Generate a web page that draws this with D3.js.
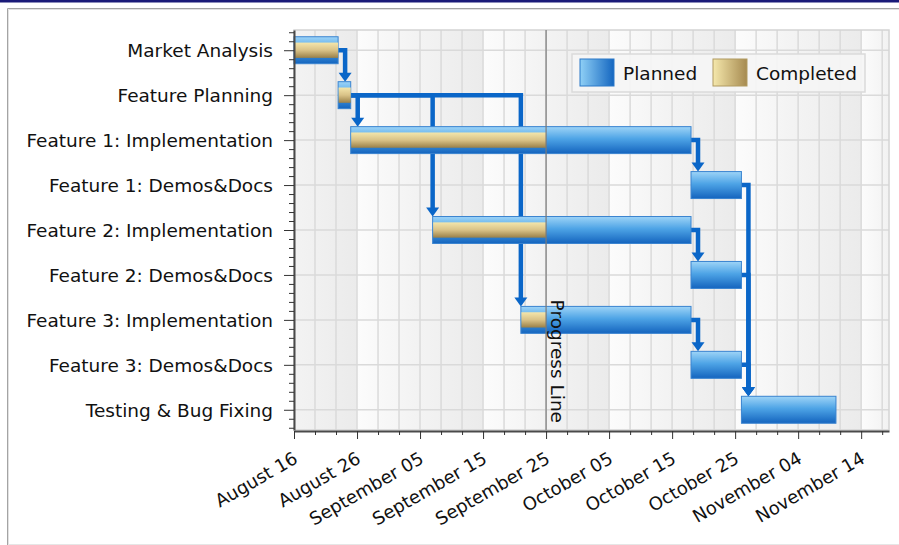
<!DOCTYPE html>
<html>
<head>
<meta charset="utf-8">
<script src="https://cdn.jsdelivr.net/npm/d3@7"></script>
<style>
body { margin: 0; background: #fff; }
svg { display: block; font-family: "DejaVu Sans", sans-serif; }
</style>
</head>
<body>
<svg id="chart" width="899" height="545"></svg>
<script>
// tasks, top to bottom
var tasks = ["Market Analysis", "Feature Planning", "Feature 1: Implementation", "Feature 1: Demos&Docs",
    "Feature 2: Implementation", "Feature 2: Demos&Docs", "Feature 3: Implementation",
    "Feature 3: Demos&Docs", "Testing & Bug Fixing"];
var plannedStart = ["2009-08-16", "2009-08-23", "2009-08-25", "2009-10-18", "2009-09-07",
    "2009-10-18", "2009-09-21", "2009-10-18", "2009-10-26"];
var plannedEnd = ["2009-08-23", "2009-08-25", "2009-10-18", "2009-10-26", "2009-10-18",
    "2009-10-26", "2009-10-18", "2009-10-26", "2009-11-10"];
var completedEnd = ["2009-08-23", "2009-08-25", "2009-09-25", null, "2009-09-25",
    null, "2009-09-25", null, null];
// [from, to] task index
var links = [[0, 1], [1, 2], [1, 4], [1, 6], [2, 3], [4, 5], [6, 7], [3, 8], [5, 8], [7, 8]];
var progressDate = "2009-09-25";
var progressTitle = "Progress Line";
var legendLabels = ["Planned", "Completed"];
var axisRange = ["2009-08-16T00:00Z", "2009-11-18T10:00Z"];

var svg = d3.select("#chart");
var parse = d3.isoParse;
var fmt = d3.utcFormat("%B %d");
var fontSize = 18.5;

var pl = 294, pr = 889, pt = 30, pb = 430;
var x = d3.scaleUtc().domain(axisRange.map(parse)).range([pl, pr]);
var y = d3.scaleLinear().domain([-0.45, tasks.length - 0.55]).range([pt, pb]);
var band = y(1) - y(0);
var barH = band * 0.6, doneH = band * 0.34;

var majorTicks = d3.utcDay.range(x.domain()[0], x.domain()[1], 10);
var gridTicks = d3.utcHour.range(x.domain()[0], x.domain()[1], 80);
var minorTicks = gridTicks.filter(function(d, i) { return i % 3 != 0; });

var defs = svg.append("defs");
function gradient(id, vertical, stops) {
    var g = defs.append("linearGradient").attr("id", id)
        .attr("x1", 0).attr("y1", 0).attr("x2", vertical ? 0 : 1).attr("y2", vertical ? 1 : 0);
    stops.forEach(function(s) {
        g.append("stop").attr("offset", s[0]).attr("stop-color", s[1]);
    });
}
gradient("planV", true, [[0, "#9ed4f7"], [0.45, "#4ea4e6"], [1, "#1464be"]]);
gradient("doneV", true, [[0, "#f4e6ac"], [0.5, "#d9c287"], [1, "#9a8048"]]);
gradient("planH", false, [[0, "#8fd0f6"], [1, "#1466c0"]]);
gradient("doneH", false, [[0, "#f5e8ac"], [1, "#a68a50"]]);
gradient("bandA", false, [[0, "#f3f3f3"], [1, "#ebebeb"]]);
gradient("bandB", false, [[0, "#fcfcfc"], [1, "#f2f2f2"]]);

// frame
svg.append("rect").attr("x", 0).attr("y", 0).attr("width", 899).attr("height", 2.5).attr("fill", "#1a1a78");
svg.append("path").attr("d", "M7.5,545V8.5H899").attr("fill", "none").attr("stroke", "#a4a4a4");
svg.append("path").attr("d", "M8.5,545V9.5H899").attr("fill", "none").attr("stroke", "#e2e2e2");
svg.append("line").attr("x1", 8).attr("x2", 899).attr("y1", 544.5).attr("y2", 544.5).attr("stroke", "#e6e6e6");

// interlaced background
var bandEdges = majorTicks.concat([x.domain()[1]]);
svg.append("g").selectAll("rect")
    .data(d3.pairs(bandEdges))
    .join("rect")
    .attr("x", function(d) { return x(d[0]); })
    .attr("y", pt)
    .attr("width", function(d) { return x(d[1]) - x(d[0]); })
    .attr("height", pb - pt)
    .attr("fill", function(d, i) { return i % 2 ? "url(#bandB)" : "url(#bandA)"; });

// grid
var grid = svg.append("g").attr("stroke", "#dadada").attr("stroke-width", 1.5);
grid.selectAll("line.v").data(gridTicks.slice(1)).join("line").attr("class", "v")
    .attr("x1", function(d) { return x(d); }).attr("x2", function(d) { return x(d); })
    .attr("y1", pt).attr("y2", pb);
grid.selectAll("line.h").data(d3.range(tasks.length)).join("line").attr("class", "h")
    .attr("x1", pl).attr("x2", pr)
    .attr("y1", function(d) { return y(d); }).attr("y2", function(d) { return y(d); });
svg.append("rect").attr("x", pl).attr("y", pt).attr("width", pr - pl).attr("height", pb - pt)
    .attr("fill", "none").attr("stroke", "#d4d4d4").attr("stroke-width", 1.5);

// connectors (under the bars)
var linkColor = "#0a66c8";
var conn = svg.append("g");
links.forEach(function(l) {
    var xs = x(parse(plannedEnd[l[0]])), ys = y(l[0]);
    var xa = Math.max(x(parse(plannedStart[l[1]])), xs + 7);
    var yt = y(l[1]) - barH / 2;
    conn.append("path")
        .attr("d", "M" + xs + "," + ys + "H" + xa + "V" + (yt - 6))
        .attr("fill", "none").attr("stroke", linkColor).attr("stroke-width", 4.5)
        .attr("stroke-linejoin", "miter");
    conn.append("path")
        .attr("d", "M" + (xa - 6.5) + "," + (yt - 9) + "H" + (xa + 6.5) + "L" + xa + "," + yt + "Z")
        .attr("fill", linkColor);
});

// bars
var bars = svg.append("g");
bars.selectAll("rect.plan").data(tasks).join("rect").attr("class", "plan")
    .attr("x", function(d, i) { return x(parse(plannedStart[i])); })
    .attr("y", function(d, i) { return y(i) - barH / 2; })
    .attr("width", function(d, i) { return x(parse(plannedEnd[i])) - x(parse(plannedStart[i])); })
    .attr("height", barH)
    .attr("fill", "url(#planV)")
    .attr("stroke", "#3a84d0").attr("stroke-width", 1);
bars.selectAll("rect.done").data(tasks.filter(function(d, i) { return completedEnd[i]; }))
    .join("rect").attr("class", "done")
    .each(function(d) {
        var i = tasks.indexOf(d);
        d3.select(this)
            .attr("x", x(parse(plannedStart[i])) + 0.5)
            .attr("y", y(i) - doneH / 2)
            .attr("width", x(parse(completedEnd[i])) - x(parse(plannedStart[i])) - 0.5)
            .attr("height", doneH);
    })
    .attr("fill", "url(#doneV)");

// progress line
var px = x(parse(progressDate));
svg.append("line").attr("x1", px).attr("x2", px).attr("y1", pt).attr("y2", pb)
    .attr("stroke", "#7a7a7a").attr("stroke-width", 1.2);
svg.append("text")
    .attr("transform", "translate(" + (px + 5) + "," + (pb - 7) + ") rotate(90)")
    .attr("text-anchor", "end")
    .attr("font-size", fontSize)
    .attr("fill", "#111")
    .text(progressTitle);

// axes
var yAxis = svg.append("g").attr("transform", "translate(" + pl + ",0)")
    .call(d3.axisLeft(y).tickValues(d3.range(tasks.length))
        .tickFormat(function(i) { return tasks[i]; })
        .tickSize(10).tickSizeOuter(0).tickPadding(11));
var yMinor = d3.range(-0.4, tasks.length - 0.5, 0.2).map(function(v) { return Math.round(v * 10) / 10; })
    .filter(function(v) { return v != Math.round(v); });
svg.append("g").attr("transform", "translate(" + pl + ",0)")
    .call(d3.axisLeft(y).tickValues(yMinor).tickFormat("").tickSize(5).tickSizeOuter(0))
    .select(".domain").remove();

var xAxis = svg.append("g").attr("transform", "translate(0," + (pb + 1) + ")")
    .call(d3.axisBottom(x).tickValues(majorTicks).tickFormat(fmt).tickSize(8).tickSizeOuter(0));
svg.append("g").attr("transform", "translate(0," + (pb + 1) + ")")
    .call(d3.axisBottom(x).tickValues(minorTicks).tickFormat("").tickSize(4).tickSizeOuter(0))
    .select(".domain").remove();

svg.selectAll(".tick line").attr("stroke", "#333");
svg.selectAll(".domain").attr("stroke", "#4a4a4a").attr("stroke-width", 2);
svg.selectAll(".tick text").attr("font-size", fontSize).attr("font-family", "DejaVu Sans, sans-serif").attr("fill", "#111");
yAxis.selectAll("text").attr("dy", "0.36em");
xAxis.selectAll("text")
    .attr("x", 0).attr("y", 0).attr("dy", 0)
    .attr("font-size", 18)
    .attr("transform", "translate(4.5,31) rotate(-30)")
    .style("text-anchor", "end");

// legend
var legend = svg.append("g").attr("transform", "translate(572,54)");
legend.append("rect").attr("width", 293).attr("height", 38)
    .attr("fill", "#f5f5f5").attr("fill-opacity", 0.92).attr("stroke", "#dadada").attr("stroke-width", 1.5);
var items = legend.selectAll("g.item").data(legendLabels).join("g").attr("class", "item")
    .attr("transform", function(d, i) { return "translate(" + (8 + i * 133) + ",5)"; });
items.append("rect").attr("width", 34).attr("height", 27)
    .attr("fill", function(d, i) { return i ? "url(#doneH)" : "url(#planH)"; })
    .attr("stroke", function(d, i) { return i ? "#b09a60" : "#2a78c8"; }).attr("stroke-width", 1);
items.append("text").attr("x", 43).attr("y", 14).attr("dy", "0.36em")
    .attr("font-size", fontSize).attr("fill", "#111")
    .text(function(d) { return d; });
</script>
</body>
</html>
